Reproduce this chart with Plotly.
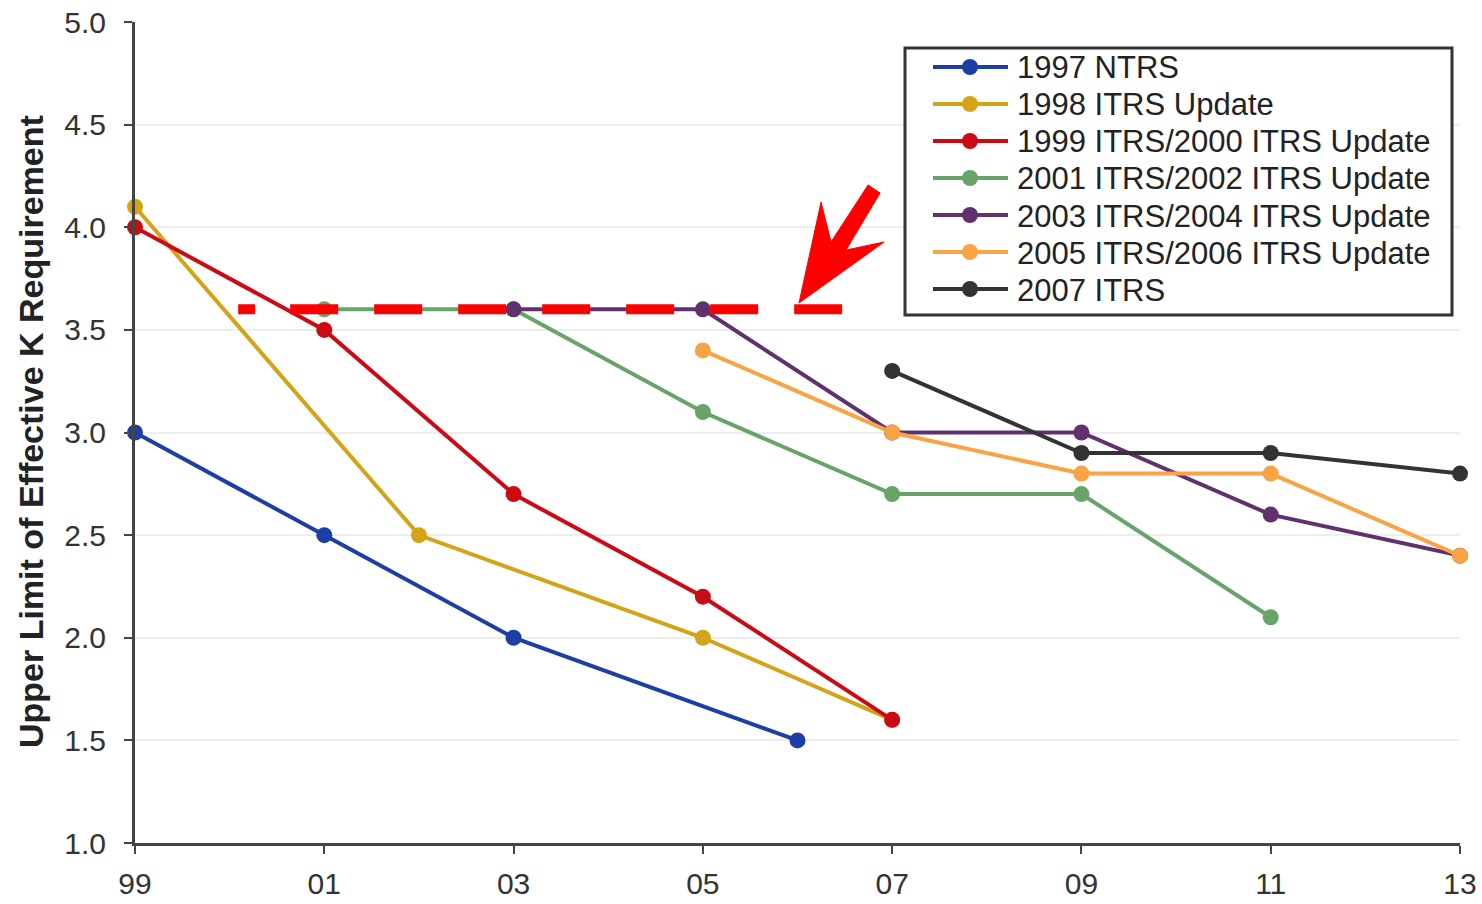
import plotly.graph_objects as go

# ---- data ----
series_names = [
    "1997 NTRS",
    "1998 ITRS Update",
    "1999 ITRS/2000 ITRS Update",
    "2001 ITRS/2002 ITRS Update",
    "2003 ITRS/2004 ITRS Update",
    "2005 ITRS/2006 ITRS Update",
    "2007 ITRS",
]
years_1997 = [1999, 2001, 2003, 2006]
k_1997 = [3.0, 2.5, 2.0, 1.5]
years_1998 = [1999, 2002, 2005, 2007]
k_1998 = [4.1, 2.5, 2.0, 1.6]
years_1999 = [1999, 2001, 2003, 2005, 2007]
k_1999 = [4.0, 3.5, 2.7, 2.2, 1.6]
years_2001 = [2001, 2003, 2005, 2007, 2009, 2011]
k_2001 = [3.6, 3.6, 3.1, 2.7, 2.7, 2.1]
years_2003 = [2003, 2005, 2007, 2009, 2011, 2013]
k_2003 = [3.6, 3.6, 3.0, 3.0, 2.6, 2.4]
years_2005 = [2005, 2007, 2009, 2011, 2013]
k_2005 = [3.4, 3.0, 2.8, 2.8, 2.4]
years_2007 = [2007, 2009, 2011, 2013]
k_2007 = [3.3, 2.9, 2.9, 2.8]

colors = ["#1c3fa6", "#d4a418", "#cc0a14", "#67a468", "#61306e", "#f9a345", "#333333"]

tick_years = [1999, 2001, 2003, 2005, 2007, 2009, 2011, 2013]
tick_labels = ["99", "01", "03", "05", "07", "09", "11", "13"]
y_ticks = [1.0, 1.5, 2.0, 2.5, 3.0, 3.5, 4.0, 4.5, 5.0]

# reference line (annotation) and arrow
ref_level = 3.6
ref_x = [2000.09, 2006.5]
arrow_x = [2006.016, 2006.249, 2006.354, 2006.746, 2006.873, 2006.513, 2006.915]
arrow_y = [3.631, 4.123, 3.928, 4.206, 4.167, 3.889, 3.928]

FONT = "Liberation Sans, Arial, sans-serif"
W, H = 1482, 904
ML, MR, MT, MB = 135, 22, 22, 61
PW, PH = W - ML - MR, H - MT - MB


def px(xp):
    return (xp - ML) / PW


def py(yp):
    return 1 - (yp - MT) / PH


fig = go.Figure()
all_x = [years_1997, years_1998, years_1999, years_2001, years_2003, years_2005, years_2007]
all_y = [k_1997, k_1998, k_1999, k_2001, k_2003, k_2005, k_2007]
for name, xs, ys, c in zip(series_names, all_x, all_y, colors):
    fig.add_trace(go.Scatter(
        x=xs, y=ys, name=name, mode="lines+markers",
        line=dict(color=c, width=4),
        marker=dict(color=c, size=16),
        cliponaxis=False, showlegend=False,
    ))

# red dashed reference line
fig.add_trace(go.Scatter(
    x=ref_x, y=[ref_level, ref_level], mode="lines", showlegend=False,
    line=dict(color="#ff0000", width=10,
              dash="17px,35px,48px,36px,48px,36px,48px,36px,48px,36px,48px,36px,48px,36px,48px,36px"),
    hoverinfo="skip", cliponaxis=False,
))

# red arrow
path = "M " + " L ".join(f"{x},{y}" for x, y in zip(arrow_x, arrow_y)) + " Z"
fig.add_shape(type="path", path=path, xref="x", yref="y",
              fillcolor="#ff0000", line=dict(color="#ff0000", width=1), layer="above")

# custom legend (box, sample lines, markers, labels)
LEG_L, LEG_R, LEG_T, LEG_B = 905, 1452, 48, 315
ROW0, ROW_STEP = 67, 37
fig.add_shape(type="rect", xref="paper", yref="paper",
              x0=px(LEG_L), x1=px(LEG_R), y0=py(LEG_B), y1=py(LEG_T),
              line=dict(color="#333333", width=3), fillcolor="white", layer="above")
annotations = []
for i, (name, c) in enumerate(zip(series_names, colors)):
    yc = ROW0 + i * ROW_STEP
    fig.add_shape(type="line", xref="paper", yref="paper",
                  x0=px(933), x1=px(1008), y0=py(yc), y1=py(yc),
                  line=dict(color=c, width=4), layer="above")
    fig.add_shape(type="circle", xref="paper", yref="paper",
                  x0=px(970 - 8), x1=px(970 + 8), y0=py(yc + 8), y1=py(yc - 8),
                  fillcolor=c, line=dict(color=c, width=0), layer="above")
    annotations.append(dict(
        text=name, xref="paper", yref="paper", x=px(1015), y=py(yc + 1),
        xanchor="left", yanchor="middle", showarrow=False,
        font=dict(size=31, family=FONT, color="#222222"),
    ))

annotations.append(dict(
    text="<b>Upper Limit of Effective K Requirement</b>",
    xref="paper", yref="paper", x=px(31), y=py(432),
    xanchor="center", yanchor="middle", textangle=-90, showarrow=False,
    font=dict(size=34, family=FONT, color="#222222"),
))

fig.update_layout(
    width=W, height=H,
    margin=dict(l=ML, r=MR, t=MT, b=MB),
    paper_bgcolor="white", plot_bgcolor="white",
    font=dict(family=FONT, color="#333333"),
    showlegend=False,
    xaxis=dict(
        range=[1999, 2013], tickmode="array", tickvals=tick_years, ticktext=tick_labels,
        showgrid=False, zeroline=False, showline=True, linecolor="#444444", linewidth=3,
        ticks="outside", ticklen=8, tickwidth=2, tickcolor="#444444",
        tickfont=dict(size=30, family=FONT, color="#333333"),
        ticklabelstandoff=4, automargin=False,
    ),
    yaxis=dict(
        range=[1, 5], tickmode="array", tickvals=y_ticks,
        ticktext=[f"{v:.1f}" for v in y_ticks],
        showgrid=True, gridcolor="#eeeeee", gridwidth=2, zeroline=False,
        showline=True, linecolor="#444444", linewidth=3,
        ticks="outside", ticklen=8, tickwidth=2, tickcolor="#444444",
        tickfont=dict(size=30, family=FONT, color="#333333"),
        ticklabelstandoff=12, automargin=False,
    ),
    annotations=annotations,
)

fig.write_html("out.html", config={"displayModeBar": False},
               post_script="document.body.style.margin='0px';")
